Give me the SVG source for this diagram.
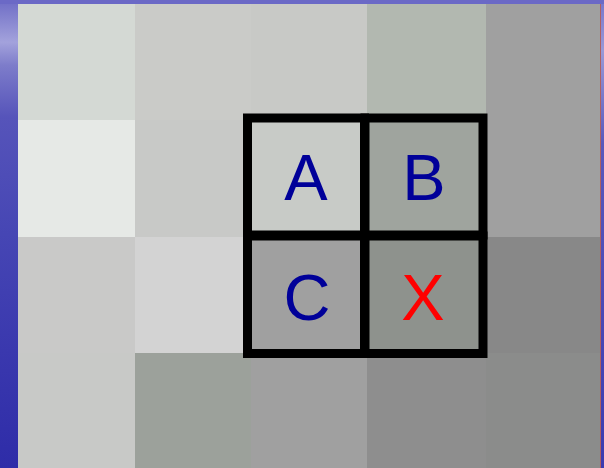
<svg xmlns="http://www.w3.org/2000/svg" width="604" height="468" viewBox="0 0 604 468">
<defs>
<linearGradient id="side" x1="0" y1="0" x2="0" y2="1">
<stop offset="0" stop-color="#6e6cc6"/>
<stop offset="0.04" stop-color="#8584cf"/>
<stop offset="0.09" stop-color="#a3a2dc"/>
<stop offset="0.14" stop-color="#7d7cca"/>
<stop offset="0.25" stop-color="#5654ba"/>
<stop offset="0.5" stop-color="#4646b4"/>
<stop offset="0.75" stop-color="#3a38ae"/>
<stop offset="1" stop-color="#2e2ca8"/>
</linearGradient>
<linearGradient id="right" x1="0" y1="0" x2="0" y2="1">
<stop offset="0" stop-color="#7a78cc"/>
<stop offset="0.1" stop-color="#9a99d8"/>
<stop offset="0.3" stop-color="#5a58bc"/>
<stop offset="1" stop-color="#3c3ab0"/>
</linearGradient>
</defs>
<style>
.lbl{font-family:"Liberation Sans",Arial,sans-serif;font-size:65px;text-anchor:middle}
.blue{fill:#000099}
.red{fill:#ff0000}
.frame{fill:none;stroke:#000;stroke-width:9}
</style>
<rect x="0" y="0" width="604" height="468" fill="url(#side)"/>
<rect x="0" y="0" width="604" height="4" fill="#6b69c6"/>
<rect x="601" y="4" width="3" height="464" fill="url(#right)"/>
<line x1="600.5" y1="4" x2="600.5" y2="468" stroke="#b06060" stroke-width="1"/>
<g id="grid">
<rect x="18" y="4" width="117" height="116" fill="#d4d9d4"/>
<rect x="135" y="4" width="116" height="116" fill="#cacbc8"/>
<rect x="251" y="4" width="116" height="116" fill="#c8c9c6"/>
<rect x="367" y="4" width="119" height="116" fill="#b2b8b0"/>
<rect x="486" y="4" width="114" height="116" fill="#a0a0a0"/>
<rect x="18" y="120" width="117" height="117" fill="#e6e9e6"/>
<rect x="135" y="120" width="116" height="117" fill="#c8c9c7"/>
<rect x="251" y="120" width="116" height="117" fill="#c8cbc7"/>
<rect x="367" y="120" width="119" height="117" fill="#9fa49e"/>
<rect x="486" y="120" width="114" height="117" fill="#a0a0a0"/>
<rect x="18" y="237" width="117" height="116" fill="#c9c9c8"/>
<rect x="135" y="237" width="116" height="116" fill="#d3d3d3"/>
<rect x="251" y="237" width="116" height="116" fill="#a0a0a0"/>
<rect x="367" y="237" width="119" height="116" fill="#8e928d"/>
<rect x="486" y="237" width="114" height="116" fill="#888888"/>
<rect x="18" y="353" width="117" height="115" fill="#c8c9c7"/>
<rect x="135" y="353" width="116" height="115" fill="#9ca19b"/>
<rect x="251" y="353" width="116" height="115" fill="#a0a0a0"/>
<rect x="367" y="353" width="119" height="115" fill="#8e8e8e"/>
<rect x="486" y="353" width="114" height="115" fill="#8b8c8b"/>
</g>
<g id="A">
<rect class="frame" x="247.5" y="118" width="117" height="117"/>
<text class="lbl blue" x="306" y="200">A</text>
</g>
<g id="B">
<rect class="frame" x="365" y="118" width="118" height="117"/>
<text class="lbl blue" x="424" y="200">B</text>
</g>
<g id="C">
<rect class="frame" x="247.5" y="236" width="117" height="117.5"/>
<text class="lbl blue" x="307" y="320">C</text>
</g>
<g id="X">
<rect class="frame" x="365" y="236" width="118" height="117.5"/>
<text class="lbl red" x="423" y="320">X</text>
</g>
</svg>
